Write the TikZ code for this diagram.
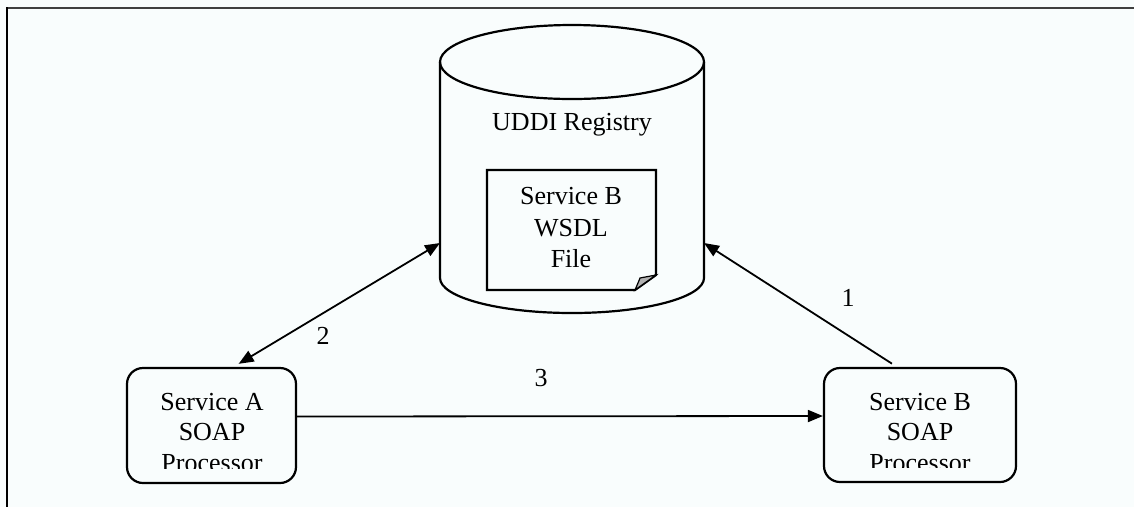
\documentclass[tikz,border=0pt]{standalone}
\usepackage{fontspec}
\setmainfont{Liberation Serif}
\usetikzlibrary{arrows.meta}
\definecolor{bgc}{RGB}{249,253,253}
\begin{document}
\begin{tikzpicture}[x=1pt,y=-1pt,
  shape line/.style={line width=2.2pt, black},
  conn/.style={line width=1.8pt, black},
  tip/.style={-{Triangle[length=15pt,width=12pt]}},
  soapbox/.style={draw, line width=2.2pt, rounded corners=16pt, inner sep=0pt},
  lbl/.style={font=\fontsize{26}{32}\selectfont, inner sep=0pt},
  doctext/.style={font=\fontsize{26}{31.5}\selectfont, align=center, inner sep=0pt},
  boxtext/.style={font=\fontsize{26}{30.5}\selectfont, align=center, inner sep=0pt}]
\useasboundingbox (0,0) rectangle (1134,507);
\fill[bgc] (0,0) rectangle (1134,507);
% frame
\draw[line width=2.6pt, black!75] (6,8) -- (1134,8);
\draw[line width=2pt, black] (7,7) -- (7,507);
% cylinder
\draw[shape line] (572,62) ellipse [x radius=132pt, y radius=37pt];
\draw[shape line] (440,62) -- (440,278) arc[start angle=180,end angle=360,x radius=132pt,y radius=35pt] -- (704,62);
\node[lbl] (uddi) at (572,125) {UDDI Registry};
\coordinate (cylL) at (440,243);
\coordinate (cylR) at (704,243);
% document
\draw[shape line, line join=miter] (487,170) -- (656,170) -- (656,275) -- (635,290) -- (487,290) -- cycle;
\draw[line width=1.2pt, fill=black!30] (635,290) .. controls (638,283) .. (640,278) .. controls (648,277) .. (656,275) -- cycle;
\node[doctext] (wsdl) at (571,228) {Service B\\WSDL\\File};
% service boxes
\node[soapbox, minimum width=169pt, minimum height=115pt] (sa) at (211.5,425.5) {};
\node[soapbox, minimum width=192pt, minimum height=114pt] (sb) at (920,425) {};
\begin{scope}
\clip (120,370) rectangle (300,468);
\node[boxtext] (satext) at (212,432.5) {Service A\\SOAP\\Processor};
\end{scope}
\begin{scope}
\clip (830,370) rectangle (1010,467);
\node[boxtext] (sbtext) at (920,432.5) {Service B\\SOAP\\Processor};
\end{scope}
% connectors
\draw[conn, tip] ([yshift=9pt]sa.east) -- ([yshift=9pt]sb.west);
\draw[conn, tip, shorten <=6pt] ([xshift=-23pt]sb.north) -- (cylR);
\draw[conn, {Triangle[length=15pt,width=12pt]}-{Triangle[length=15pt,width=12pt]}, shorten >=6pt] (cylL) -- ([xshift=22pt]sa.north);
% labels
\node[lbl] (l1) at (848,298) {1};
\node[lbl] (l2) at (323,336) {2};
\node[lbl] (l3) at (541,378) {3};
\end{tikzpicture}
\end{document}
